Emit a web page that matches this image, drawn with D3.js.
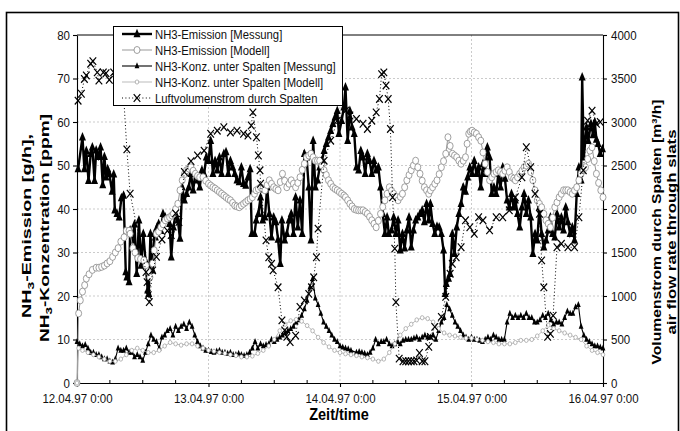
<!DOCTYPE html>
<html>
<head>
<meta charset="utf-8">
<script src="https://cdn.jsdelivr.net/npm/d3@7"></script>
<style>
  body { margin: 0; background: #fff; }
  svg { display: block; font-family: "Liberation Sans", Arial, sans-serif; }
</style>
</head>
<body>
<svg id="chart" width="680" height="431"></svg>
<script>
// hours after 12.04.97 0:00
const dayTicks = [0, 24, 48, 72, 96];
const leftTicks = [0, 10, 20, 30, 40, 50, 60, 70, 80];
const rightTicks = [0, 500, 1000, 1500, 2000, 2500, 3000, 3500, 4000];

// NH3-Emission [Messung] g/h
const emissionMess = [[0.2,49.2],[1,56.5],[1.35,49.2],[1.7,53.4],[2.1,46.5],[2.5,52.7],[2.8,54.2],[3.2,46.5],[3.5,53.5],[3.9,52],[4.3,54.2],[4.7,45.5],[5,52],[5.3,47.3],[5.6,49.2],[5.9,48.1],[6.4,44],[6.7,48],[6.9,39.7],[7.3,38.9],[7.7,38.1],[8.1,42.5],[8.5,43.1],[8.9,25.5],[9.1,24.3],[9.5,23.2],[9.7,35.1],[10.1,32.8],[10.5,36.5],[10.9,25.1],[11.3,37.4],[11.7,27],[12.1,34.3],[12.5,28.2],[12.9,21.3],[13.1,20.5],[13.4,34.3],[13.8,25.9],[14.1,34.3],[14.3,33.5],[14.6,35.8],[14.9,36.6],[15.3,35],[15.7,38.9],[16.1,38.1],[16.5,37.5],[16.9,36.6],[17.2,28.9],[17.6,35.8],[18,38.9],[18.4,37.4],[18.8,33.2],[19.2,45],[19.6,42],[20,43.5],[20.4,45],[20.8,48.1],[21.2,44.3],[21.6,48.1],[22,46.6],[22.4,45],[22.8,48.9],[23.2,48.1],[23.6,51.9],[24,51.1],[24.4,55.7],[24.8,48.1],[25.2,51.1],[25.6,48.9],[26,51.9],[26.4,48.1],[26.8,52.7],[27.2,53.1],[27.6,48.1],[28,51.1],[28.4,49.6],[28.8,48.1],[29.2,46.6],[29.6,46.2],[30,49.6],[30.4,45.8],[30.8,45.4],[31.2,47.3],[31.6,49.2],[31.9,34.3],[32.4,34.3],[32.7,37.4],[33.1,38.9],[33.5,42.7],[33.9,37.4],[34.3,38.1],[34.7,45],[35.1,38.9],[35.5,33.5],[35.9,38.1],[36.3,37],[36.7,33],[37.1,27.4],[37.4,37.4],[37.9,32.8],[38.3,34.3],[38.7,37.4],[39.1,38.9],[39.5,34.3],[39.9,42.7],[40.3,35.8],[40.7,42],[41.1,34.3],[41.5,52.7],[41.9,51.9],[42.3,45],[42.7,32.8],[43.1,55.7],[43.5,45],[43.9,46.6],[44.3,49.6],[44.7,51.1],[45.1,53.4],[45.5,55],[45.9,56.5],[46.3,58],[46.7,59.6],[47.1,61.1],[47.5,62.6],[47.8,57.3],[48.3,60.3],[48.7,63.4],[49,68],[49.4,55.7],[49.8,62.6],[50.2,58.8],[50.6,57.3],[51,49.6],[51.4,48.9],[51.8,53.4],[52.2,51.9],[52.6,48.1],[53,52.7],[53.4,51.1],[53.8,48.1],[54.2,51.1],[54.6,48.9],[55,49.6],[55.4,45],[55.8,38.9],[56.2,34.3],[56.6,38.1],[56.9,34.3],[57.4,35.1],[57.8,38.1],[58.2,34.3],[58.6,37.4],[59,30.5],[59.4,34.3],[59.8,31],[60.2,35.1],[60.6,38.1],[61,31.2],[61.4,35.1],[61.8,37.4],[62.2,38.1],[62.6,38.9],[63,39.7],[63.4,37],[63.8,41.2],[64.2,37.4],[64.5,41.2],[64.9,36.6],[65.3,34.3],[65.7,36],[66.1,35.8],[66.5,34.3],[66.9,30.5],[67.2,20.5],[67.4,22.8],[67.8,24],[68.1,25.1],[68.5,34.3],[68.9,29.7],[69.3,35.8],[69.7,38.9],[70.1,41.2],[70.5,45],[70.9,44],[71.3,47.3],[71.7,49.6],[72.1,48.1],[72.5,51.1],[72.9,48.1],[73.3,49.6],[73.7,45],[74.1,50.4],[74.5,48.1],[74.9,54.2],[75.3,51.9],[75.7,43.5],[76.1,45],[76.5,43.5],[76.9,48.1],[77.3,45],[77.7,49.6],[78.1,47],[78.5,42],[78.9,40.4],[79.3,43.5],[79.7,40.4],[80,42],[80.4,38.9],[80.8,35.8],[81.2,40.4],[81.6,43.5],[82,38.9],[82.4,42],[82.8,38.1],[83.2,29.7],[83.6,34.3],[84,32.8],[84.4,40.4],[84.8,34.3],[85.2,31.2],[85.6,32.8],[86,35.1],[86.4,38.1],[86.8,34.3],[87.2,33.5],[87.6,38.9],[88,35.8],[88.4,38.1],[88.8,35.1],[89.2,40.4],[89.6,37],[90,34.3],[90.4,35.8],[90.8,32.8],[91.2,43.5],[91.6,49.6],[92,46.6],[92.2,70.3],[92.5,51.9],[93,58.8],[93.3,55.7],[93.8,59.6],[94.2,57],[94.5,60],[94.8,56],[95.1,55],[95.5,52.7],[95.9,53.8]];

// NH3-Emission [Modell] g/h
const emissionMod = [[0,0],[0.3,16],[0.6,19],[1,21],[1.4,22.5],[1.7,24],[2.2,25],[2.8,26],[3.5,26.5],[4,26.5],[4.5,26.7],[5,27],[5.5,27.5],[6,28],[6.5,29],[7,30],[7.5,31],[8,32.5],[8.6,33.5],[9,35],[9.5,35],[9.7,34.3],[10.2,31],[10.6,30],[11.1,28.7],[11.6,28.5],[12.2,28.2],[12.6,27],[13,25.7],[13.3,24.3],[13.8,27.5],[14.1,30.5],[14.5,34.3],[14.9,34.8],[15.3,35.8],[15.7,36.5],[16.1,37.4],[16.5,37.8],[16.9,38.1],[17.3,38.5],[17.6,38.9],[18,40],[18.4,41.2],[18.8,44.3],[19.2,46.6],[19.6,48],[20,48.9],[20.4,49.3],[20.8,49.6],[21.2,48.8],[21.6,48.1],[22,47.6],[22.4,47.3],[23,47.3],[23.5,46.5],[24,45.8],[24.4,45.4],[24.8,45],[25.2,44.7],[25.6,44.3],[26,43.9],[26.4,43.5],[26.8,43.1],[27.2,42.7],[27.6,42.3],[28,42],[28.4,41.4],[28.8,40.8],[29.2,40.6],[29.6,40.4],[30,40.8],[30.4,41.2],[30.8,41.6],[31.2,42],[31.6,42.3],[32,42.7],[32.4,43.5],[32.7,44.3],[33.1,44.6],[33.5,45],[33.9,44.6],[34.3,44.3],[34.7,45.5],[35.1,46.6],[35.5,45.8],[35.9,45],[36.3,44.6],[36.7,44.3],[37.1,46.2],[37.5,48.1],[37.9,46.5],[38.3,45],[38.7,45.8],[39.1,46.6],[39.5,45.8],[39.9,45],[40.3,46],[40.7,47.3],[41.1,49],[41.5,50.4],[41.9,51.9],[42.3,52.3],[42.7,52.7],[43.1,51.9],[43.5,51.1],[43.9,51.1],[44.3,51.1],[44.7,50],[45.1,48.9],[45.5,47.8],[45.9,46.6],[46.3,45.8],[46.7,45],[47.1,44.6],[47.5,44.3],[47.9,43.9],[48.3,43.5],[48.7,43.1],[49,42.7],[49.4,42],[49.8,41.2],[50.2,40.6],[50.6,40],[51,39.8],[51.4,39.7],[51.8,39.7],[52.2,39.7],[52.6,39.3],[53,38.9],[53.4,38.2],[53.8,37.4],[54.2,36.6],[54.6,35.8],[55,37.3],[55.4,38.9],[55.8,40.5],[56.2,42],[56.6,43.5],[57,45],[57.4,44.2],[57.8,43.5],[58.2,42.8],[58.6,42],[59,42.8],[59.4,43.5],[59.8,45],[60.2,46.6],[60.6,47.8],[61,48.9],[61.4,50],[61.8,51.1],[62.2,49.6],[62.6,48.1],[63,46.5],[63.4,45],[63.8,44.3],[64.2,43.5],[64.5,44.3],[64.9,45],[65.3,45.8],[65.7,46.6],[66.1,48],[66.5,49.6],[66.9,51],[67.3,52.7],[67.7,56.5],[68.1,54.5],[68.5,52.7],[68.9,52.3],[69.3,51.9],[69.7,51.1],[70.1,50.4],[70.5,51.1],[70.9,51.9],[71.2,55],[71.5,57.3],[71.8,57.8],[72.1,58],[72.5,57.6],[72.9,57.3],[73.3,56.5],[73.7,55.7],[74.1,53],[74.5,50.4],[74.9,48.5],[75.3,46.6],[75.7,47.3],[76.1,48.1],[76.5,48.5],[76.9,48.9],[77.3,48.5],[77.7,48.1],[78.1,48.8],[78.5,49.6],[78.9,48.5],[79.3,47.3],[79.7,47],[80,46.6],[80.4,47.3],[80.8,48.1],[81.2,48.8],[81.6,49.6],[82,50],[82.4,50.4],[82.8,48.5],[83.2,46.6],[83.6,44.3],[84,42],[84.4,41.2],[84.8,40.4],[85.2,38.9],[85.6,37.4],[86,36.6],[86.4,35.8],[86.8,38],[87.2,40.4],[87.6,41.5],[88,42.7],[88.4,43.5],[88.8,44.3],[89.2,44.3],[89.6,44.3],[90,43.9],[90.4,43.5],[90.8,44.3],[91.2,45],[91.6,46.6],[92,48.1],[92.4,48.9],[92.8,49.6],[93.2,51.5],[93.6,53.4],[94,54.2],[94.4,51],[94.8,48.1],[95.2,46],[95.6,44.3],[96,42.7]];

// NH3-Konz. unter Spalten [Messung] ppm
const konzMess = [[0,9.5],[0.5,9],[1,8.5],[1.5,8.8],[2,8],[2.5,7],[3,7],[3.5,6.5],[4,6.5],[4.5,6],[5,5.5],[5.5,5.5],[6,5],[6.5,4.8],[7,5.5],[7.5,8],[8,7.5],[8.5,7.5],[9,8],[9.5,7],[10,7],[10.5,6],[11,6.5],[11.5,6],[12,5.2],[12.5,7],[13,9],[13.5,11],[14,10],[14.5,9.5],[15,8],[15.5,10.5],[16,11],[16.5,12],[17,12.5],[17.5,11],[18,13],[18.5,12],[19,13],[19.5,13.5],[20,12.5],[20.5,14],[21,13],[21.5,11],[22,9.5],[22.5,8.5],[23,8],[23.5,7.5],[24,7.5],[24.5,7.2],[25,7],[25.5,7.3],[26,7.5],[26.5,7],[27,7],[27.5,6.8],[28,7],[28.5,6.5],[29,6.5],[29.5,6.8],[30,6.5],[30.5,6.3],[31,6.5],[31.5,7],[32,8],[32.5,9.5],[33,8],[33.5,9],[34,8.5],[34.5,8.8],[35,9],[35.5,10],[36,9.5],[36.5,10],[37,10.5],[37.5,11],[38,11.5],[38.5,12],[39,12.5],[39.5,13],[40,14],[40.5,14.5],[41,15.5],[41.5,17],[42,19],[42.5,22],[43,24],[43.5,19.5],[44,18],[44.5,16],[45,14],[45.5,13],[46,12],[46.5,11],[47,10],[47.5,9.5],[48,8.5],[48.5,8.2],[49,8],[49.5,7.8],[50,7.5],[51,7],[51.5,7.2],[52,7],[52.5,6.8],[53,6.5],[53.5,7],[54,8],[54.5,10],[55,9],[55.5,9.5],[56,9.5],[56.5,10],[57,9],[57.5,8.5],[58,9],[58.5,9.5],[59,9],[59.5,9.8],[60,10],[60.5,10],[61,10],[61.5,10.3],[62,10.5],[62.5,10],[63,10.5],[63.5,11],[64,10.5],[64.5,10.5],[65,11],[65.5,10],[66,12],[66.5,14],[67,15],[67.5,18],[68,17],[68.5,15.5],[69,14],[69.5,13],[70,12],[70.5,11],[71,10.5],[71.5,10],[72,10.5],[72.5,10],[73,10],[73.5,9.8],[74,9.5],[74.5,10],[75,10.5],[75.5,10],[76,11],[76.5,10.5],[77,10],[77.5,10],[78,10],[78.5,14],[79,16],[79.5,15],[80,15.5],[80.5,15],[81,15.5],[81.5,15],[82,16],[82.5,15],[83,15],[83.5,14],[84,14],[84.5,14.5],[85,15.5],[85.5,15],[86,16],[86.5,14.5],[87,13.5],[87.5,14],[88,14],[88.5,13.5],[89,15],[89.5,16.5],[90,16],[90.5,16],[91,17.5],[91.5,18],[92,13],[92.5,11],[93,10],[93.5,9.5],[94,9],[94.5,8.5],[95,8.5],[95.5,8.2],[96,8]];

// NH3-Konz. unter Spalten [Modell] ppm
const konzMod = [[0,0],[0.3,8],[1,7.5],[2,7],[3,6.5],[4,6],[5,5.5],[6,5],[7,5],[8,5.5],[9,6.5],[10,7.5],[11,8],[12,7.5],[13,7],[14,7],[15,7.5],[16,8.5],[17,9.3],[18,9],[19,8.7],[20,9],[21,9],[22,8.5],[23,8],[24,7.5],[25,7.3],[26,7],[27,6.8],[28,6.5],[29,6.3],[30,6],[31,6],[32,6.2],[33,6.8],[34,7.5],[35,8.5],[36,10],[37,12],[38,13.5],[39,14.3],[40,14.6],[41,14.2],[42,13.2],[43,12],[44,10.5],[45,9.3],[46,8.3],[47,7.5],[48,7],[49,6.7],[50,6.5],[51,6.3],[52,6],[53,5.8],[54,5.5],[55,5],[56,5.5],[57,7],[58,9],[59,11],[60,12.5],[61,13.5],[62,14.5],[63,15],[64,14.8],[65,14],[66,12.5],[67,11.5],[68,11],[69,10.8],[70,10.5],[71,10.3],[72,10.3],[73,10],[74,9.8],[75,9.5],[76,9.3],[77,9],[78,9],[79,9],[80,9.3],[81,9.8],[82,9.8],[83,10],[84,10.8],[85,12],[86,13.3],[87,12.5],[88,12],[89,11.5],[90,11],[91,10.5],[92,10],[93,8.5],[94,7.5],[95,7],[96,6.5]];

// Luftvolumenstrom durch Spalten m3/h
const airflow = [[0.2,3245],[0.8,3325],[1.35,3495],[1.7,3535],[2.5,3670],[2.9,3700],[3.7,3570],[4,3475],[4.8,3570],[5.3,3560],[5.9,3485],[6.7,3570],[7.5,3550],[8.3,3520],[9.1,2685],[9.7,2175],[12.6,1275],[12.8,1160],[13,1010],[13.2,930],[13.8,1295],[14.5,1450],[15.5,1650],[16.5,1750],[17.2,1700],[18,1950],[18.6,1850],[19.6,2425],[20.8,2550],[22,2615],[23.2,2670],[24.4,2865],[25.6,2900],[26.8,2940],[28,2880],[29.2,2900],[30.4,2865],[31.2,2845],[31.8,2960],[32.1,3110],[32.75,2825],[33.1,2615],[33.4,2445],[33.5,2290],[34.5,1640],[35,1445],[35.5,1370],[35.8,1295],[36.7,1100],[37.4,720],[37.9,605],[38.3,530],[38.9,470],[39.9,545],[40.7,875],[41.5,950],[42.3,1025],[42.8,1100],[43.2,1215],[43.7,1445],[44,1775],[45.1,2555],[46.3,2785],[47.5,3015],[49,3130],[49.8,3075],[51,3035],[52.2,2980],[53,2920],[53.8,3015],[54.6,3110],[55.2,3265],[55.6,3550],[56,3570],[56.4,3420],[56.8,3265],[57.2,2920],[57.6,2135],[58,1545],[58.2,930],[58.8,280],[59.5,250],[60,250],[60.5,250],[61,250],[61.5,250],[62,260],[62.5,345],[63,250],[63.5,250],[64.2,415],[64.5,530],[65.3,645],[66.5,760],[67.3,990],[68.1,1255],[68.5,1370],[69.2,1445],[70.1,1560],[70.9,1870],[71.7,1790],[72.5,1715],[73.3,1905],[74.1,1870],[75.3,1755],[76.5,1905],[77.7,1905],[78.9,1985],[80,2135],[81.2,2365],[82,2710],[82.8,2480],[83.6,2175],[84.4,1945],[84.8,1410],[85.2,1100],[85.9,530],[86.4,565],[86.9,775],[87.6,1560],[88.4,1600],[89.6,1560],[90.8,1560],[91.6,1905],[92.4,2445],[93.2,3015],[94,3130],[94.8,2980],[95.5,3000]];

const legendNames = [
  "NH3-Emission [Messung]",
  "NH3-Emission [Modell]",
  "NH3-Konz. unter Spalten [Messung]",
  "NH3-Konz. unter Spalten [Modell]",
  "Luftvolumenstrom durch Spalten"
];

const T0 = Date.UTC(1997, 3, 12);
const toDate = (h) => new Date(T0 + h * 3600000);

const x0 = 77, x1 = 603, yTop = 35, yBot = 383;
const SY = 1.15; // text in the picture is a little taller than wide

const svg = d3.select("#chart");

const x = d3.scaleUtc().domain([toDate(0), toDate(96)]).range([x0, x1]);
const yL = d3.scaleLinear().domain([0, 80]).range([yBot, yTop]);
const yR = d3.scaleLinear().domain([0, 4000]).range([yBot, yTop]);

// outer frame
svg.append("rect")
  .attr("x", 6.5).attr("y", 12.5)
  .attr("width", 672).attr("height", 440)
  .attr("fill", "none").attr("stroke", "#000").attr("stroke-width", 1.6);

// grid
const grid = svg.append("g")
  .attr("stroke", "#b4b4b4").attr("stroke-width", 0.7)
  .attr("stroke-dasharray", "2,2");
grid.selectAll(".gh")
  .data(leftTicks.filter((v) => v > 0 && v < 80))
  .join("line")
  .attr("x1", x0).attr("x2", x1)
  .attr("y1", (d) => yL(d)).attr("y2", (d) => yL(d));
grid.selectAll(".gv")
  .data(dayTicks.slice(1, -1))
  .join("line")
  .attr("x1", (d) => x(toDate(d))).attr("x2", (d) => x(toDate(d)))
  .attr("y1", yTop).attr("y2", yBot);

// top border of plot area
svg.append("line")
  .attr("x1", x0).attr("x2", x1).attr("y1", yTop).attr("y2", yTop)
  .attr("stroke", "#000").attr("stroke-width", 1);

// axes
const fmt = d3.utcFormat("%d.%m.%y %-H:%M");
const xAxis = d3.axisBottom(x)
  .tickValues(dayTicks.map(toDate))
  .tickFormat(fmt).tickSize(4).tickSizeOuter(0);
const gx = svg.append("g").attr("transform", `translate(0,${yBot})`).call(xAxis);
gx.selectAll("text").attr("y", 0).attr("dy", 0)
  .attr("transform", `translate(0,20) scale(1,${SY})`);

// minor ticks every 6 h
svg.append("g").selectAll("line")
  .data(d3.range(6, 96, 6).filter((h) => h % 24 !== 0))
  .join("line")
  .attr("x1", (d) => x(toDate(d))).attr("x2", (d) => x(toDate(d)))
  .attr("y1", yBot).attr("y2", yBot - 3)
  .attr("stroke", "#000");

const gl = svg.append("g").attr("transform", `translate(${x0},0)`)
  .call(d3.axisLeft(yL).tickValues(leftTicks).tickSize(4).tickSizeOuter(0));
gl.selectAll("text").attr("x", -7).attr("dy", 0).attr("y", 0)
  .attr("transform", `translate(0,4) scale(1,${SY})`);

const gr = svg.append("g").attr("transform", `translate(${x1},0)`)
  .call(d3.axisRight(yR).tickValues(rightTicks).tickFormat(d3.format("d"))
    .tickSize(4).tickSizeOuter(0));
gr.selectAll("text").attr("x", 8).attr("dy", 0).attr("y", 0)
  .attr("transform", `translate(0,4) scale(1,${SY})`);

svg.selectAll(".tick text")
  .attr("font-family", "Liberation Sans, Arial, sans-serif")
  .attr("font-size", 11.5).attr("fill", "#111");
svg.selectAll(".domain, .tick line").attr("stroke", "#000").attr("stroke-width", 1.1);

// series
const triPath = (w, h) => `M0,${-h * 0.62}L${w / 2},${h * 0.38}L${-w / 2},${h * 0.38}Z`;
const xPath = "M-3.3,-3.8L3.3,3.8M-3.3,3.8L3.3,-3.8";

const lineL = d3.line().x((d) => x(toDate(d[0]))).y((d) => yL(d[1]));
const lineR = d3.line().x((d) => x(toDate(d[0]))).y((d) => yR(d[1]));

const styles = [
  { data: emissionMess, line: lineL, stroke: "#000", width: 2.4, dash: null, marker: "triBig" },
  { data: emissionMod, line: lineL, stroke: "#999", width: 1, dash: null, marker: "circBig" },
  { data: konzMess, line: lineL, stroke: "#000", width: 1.1, dash: null, marker: "triSmall" },
  { data: konzMod, line: lineL, stroke: "#aaa", width: 0.8, dash: null, marker: "circSmall" },
  { data: airflow, line: lineR, stroke: "#000", width: 1, dash: "1,2.4", marker: "cross" }
];

function drawMarker(sel, kind) {
  if (kind === "triBig") {
    sel.append("path").attr("d", triPath(7, 8.5)).attr("fill", "#000");
  } else if (kind === "triSmall") {
    sel.append("path").attr("d", triPath(4.8, 6)).attr("fill", "#000");
  } else if (kind === "circBig") {
    sel.append("ellipse").attr("rx", 3).attr("ry", 3.5)
      .attr("fill", "#fff").attr("stroke", "#888").attr("stroke-width", 0.8);
  } else if (kind === "circSmall") {
    sel.append("ellipse").attr("rx", 1.8).attr("ry", 2.1)
      .attr("fill", "#fff").attr("stroke", "#999").attr("stroke-width", 0.7);
  } else if (kind === "cross") {
    sel.append("path").attr("d", xPath).attr("fill", "none")
      .attr("stroke", "#000").attr("stroke-width", 1.2);
  }
}

styles.forEach((s) => {
  const g = svg.append("g");
  g.append("path")
    .datum(s.data)
    .attr("d", s.line)
    .attr("fill", "none")
    .attr("stroke", s.stroke)
    .attr("stroke-width", s.width)
    .attr("stroke-dasharray", s.dash);
  const yScale = s.line === lineR ? yR : yL;
  g.selectAll("g.m")
    .data(s.data)
    .join("g")
    .attr("class", "m")
    .attr("transform", (d) => `translate(${x(toDate(d[0]))},${yScale(d[1])})`)
    .each(function () { drawMarker(d3.select(this), s.marker); });
});

// legend
const lg = svg.append("g");
lg.append("rect")
  .attr("x", 113.5).attr("y", 26.5).attr("width", 229).attr("height", 79)
  .attr("fill", "#fff").attr("stroke", "#000").attr("stroke-width", 1);
styles.forEach((s, i) => {
  const yy = 34 + i * 16;
  lg.append("line")
    .attr("x1", 122).attr("x2", 152).attr("y1", yy).attr("y2", yy)
    .attr("stroke", s.stroke).attr("stroke-width", s.width)
    .attr("stroke-dasharray", s.dash);
  drawMarker(lg.append("g").attr("transform", `translate(137,${yy})`), s.marker);
  lg.append("text")
    .attr("transform", `translate(155,${yy + 4.5}) scale(1,${SY})`)
    .attr("font-size", 11.3).attr("fill", "#111")
    .text(legendNames[i]);
});

// axis titles
function sub3(t, before, after) {
  t.append("tspan").text(before);
  t.append("tspan").attr("font-size", "0.7em").attr("dy", 3).text("3");
  t.append("tspan").attr("dy", -3).text(after);
}
const t1 = svg.append("text")
  .attr("transform", "translate(31,226) rotate(-90)")
  .attr("text-anchor", "middle").attr("font-weight", "bold").attr("font-size", 13)
  .attr("textLength", 184).attr("lengthAdjust", "spacingAndGlyphs");
sub3(t1, "NH", "-Emission [g/h],");
const t2 = svg.append("text")
  .attr("transform", "translate(49,228) rotate(-90)")
  .attr("text-anchor", "middle").attr("font-weight", "bold").attr("font-size", 13)
  .attr("textLength", 228).attr("lengthAdjust", "spacingAndGlyphs");
sub3(t2, "NH", "-Konzentration [ppm]");

svg.append("text")
  .attr("transform", "translate(661,232) rotate(-90)")
  .attr("text-anchor", "middle").attr("font-weight", "bold").attr("font-size", 13)
  .attr("textLength", 265).attr("lengthAdjust", "spacingAndGlyphs")
  .text("Volumenstrom durch Spalten [m³/h]");
svg.append("text")
  .attr("transform", "translate(676,232) rotate(-90)")
  .attr("text-anchor", "middle").attr("font-weight", "bold").attr("font-size", 13)
  .attr("textLength", 205).attr("lengthAdjust", "spacingAndGlyphs")
  .text("air flow rate through slats");

svg.append("text")
  .attr("transform", `translate(339,420) scale(1,${SY})`)
  .attr("text-anchor", "middle").attr("font-weight", "bold").attr("font-size", 14.5)
  .text("Zeit/time");
</script>
</body>
</html>
